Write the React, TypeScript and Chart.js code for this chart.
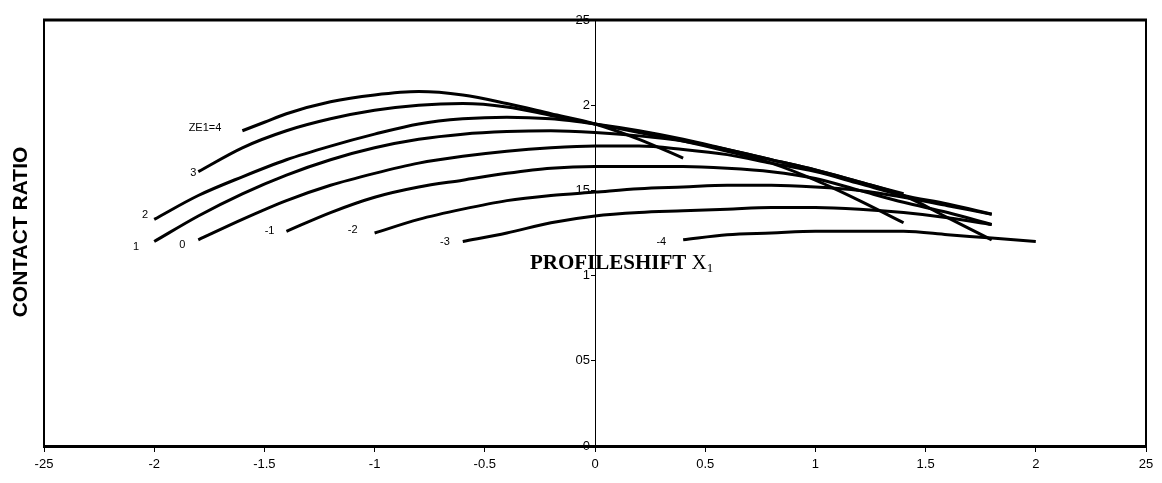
import React, { useEffect, useRef } from "react";
import { Chart, registerables } from "chart.js";

Chart.register(...registerables);

// ---- data (profile shift X1 vs contact ratio) ----
const curveNames = ["ZE1=4", "3", "2", "1", "0", "-1", "-2", "-3", "-4"];

const xs4 = [-1.6, -1.5, -1.4, -1.2, -1.0, -0.8, -0.6, -0.4, -0.2, 0, 0.2, 0.4];
const ys4 = [1.85, 1.9, 1.95, 2.02, 2.06, 2.08, 2.06, 2.01, 1.95, 1.89, 1.8, 1.69];

const xs3 = [-1.8, -1.6, -1.4, -1.2, -1.0, -0.8, -0.6, -0.4, -0.2, 0, 0.2, 0.4, 0.6, 0.8, 1.0, 1.2, 1.4];
const ys3 = [1.61, 1.75, 1.85, 1.92, 1.97, 2.0, 2.01, 1.99, 1.94, 1.89, 1.84, 1.79, 1.73, 1.66, 1.56, 1.44, 1.31];

const xs2 = [-2.0, -1.8, -1.6, -1.4, -1.2, -1.0, -0.8, -0.6, -0.4, -0.2, 0, 0.2, 0.4, 0.6, 0.8, 1.0, 1.2, 1.4, 1.6, 1.8];
const ys2 = [1.33, 1.47, 1.58, 1.68, 1.76, 1.83, 1.89, 1.92, 1.93, 1.92, 1.89, 1.85, 1.8, 1.74, 1.68, 1.62, 1.55, 1.47, 1.34, 1.21];

const xs1 = [-2.0, -1.8, -1.6, -1.4, -1.2, -1.0, -0.8, -0.6, -0.4, -0.2, 0, 0.2, 0.4, 0.6, 0.8, 1.0, 1.2, 1.4];
const ys1 = [1.2, 1.35, 1.48, 1.59, 1.68, 1.75, 1.8, 1.83, 1.845, 1.85, 1.84, 1.82, 1.79, 1.74, 1.68, 1.62, 1.55, 1.48];

const xs0 = [-1.8, -1.6, -1.4, -1.2, -1.0, -0.8, -0.6, -0.4, -0.2, 0, 0.2, 0.4, 0.6, 0.8, 1.0, 1.2, 1.4, 1.6, 1.8];
const ys0 = [1.21, 1.33, 1.44, 1.53, 1.6, 1.66, 1.7, 1.73, 1.75, 1.76, 1.76, 1.74, 1.71, 1.66, 1.61, 1.54, 1.47, 1.42, 1.36];

const xsM1 = [-1.4, -1.2, -1.0, -0.8, -0.6, -0.4, -0.2, 0, 0.2, 0.4, 0.6, 0.8, 1.0, 1.2, 1.4, 1.6, 1.8];
const ysM1 = [1.26, 1.37, 1.46, 1.52, 1.56, 1.6, 1.63, 1.64, 1.64, 1.64, 1.63, 1.61, 1.57, 1.5, 1.43, 1.37, 1.3];

const xsM2 = [-1.0, -0.8, -0.6, -0.4, -0.2, 0, 0.2, 0.4, 0.6, 0.8, 1.0, 1.2, 1.4, 1.6, 1.8];
const ysM2 = [1.25, 1.33, 1.39, 1.44, 1.47, 1.49, 1.51, 1.52, 1.53, 1.53, 1.52, 1.5, 1.46, 1.41, 1.36];

const xsM3 = [-0.6, -0.4, -0.2, 0, 0.2, 0.4, 0.6, 0.8, 1.0, 1.2, 1.4, 1.6, 1.8];
const ysM3 = [1.2, 1.25, 1.31, 1.35, 1.37, 1.38, 1.39, 1.4, 1.4, 1.39, 1.37, 1.34, 1.3];

const xsM4 = [0.4, 0.6, 0.8, 1.0, 1.2, 1.4, 1.6, 1.8, 2.0];
const ysM4 = [1.21, 1.24, 1.25, 1.26, 1.26, 1.26, 1.24, 1.22, 1.2];

const xTickLabels = ["-25", "-2", "-1.5", "-1", "-0.5", "0", "0.5", "1", "1.5", "2", "25"];
const yTickLabels = ["0", "05", "1", "15", "2", "25"];

const xTitleMain = "PROFILESHIFT";
const xTitleVar = "X";
const xTitleSub = "1";
const yTitle = "CONTACT RATIO";

// label offsets in pixels relative to each curve's first point (style only)
const labelOffsets = [
  [-21, -3],
  [-2, 1],
  [-6, -4],
  [-15, 5],
  [-13, 5],
  [-12, 0],
  [-17, -3],
  [-13, 0],
  [-17, 2],
];

const seriesX = [xs4, xs3, xs2, xs1, xs0, xsM1, xsM2, xsM3, xsM4];
const seriesY = [ys4, ys3, ys2, ys1, ys0, ysM1, ysM2, ysM3, ysM4];

const SANS = "'Liberation Sans', Arial, sans-serif";
const SERIF = "'Liberation Serif', 'Times New Roman', serif";

const decorPlugin = {
  id: "decor",
  afterDraw(chart: any) {
    const { ctx, chartArea } = chart;
    const { left, right, top, bottom } = chartArea;
    const xs = chart.scales.x;
    const ysc = chart.scales.y;
    ctx.save();
    ctx.strokeStyle = "#000";
    // frame
    ctx.lineWidth = 3;
    ctx.beginPath();
    ctx.moveTo(left - 1, top);
    ctx.lineTo(right + 1, top);
    ctx.stroke();
    ctx.lineWidth = 2;
    ctx.beginPath();
    ctx.moveTo(left, top);
    ctx.lineTo(left, bottom);
    ctx.moveTo(right, top);
    ctx.lineTo(right, bottom);
    ctx.stroke();

    ctx.fillStyle = "#000";

    // y tick labels beside the central axis
    const axisX = xs.getPixelForValue(0);
    ctx.font = `13px ${SANS}`;
    ctx.textAlign = "right";
    ctx.textBaseline = "middle";
    ysc.ticks.forEach((t: any, i: number) => {
      ctx.fillText(yTickLabels[i], axisX - 5, ysc.getPixelForValue(t.value));
    });

    // curve labels
    ctx.font = `11px ${SANS}`;
    curveNames.forEach((name, i) => {
      const px = xs.getPixelForValue(seriesX[i][0]) + labelOffsets[i][0];
      const py = ysc.getPixelForValue(seriesY[i][0]) + labelOffsets[i][1];
      ctx.fillText(name, px, py);
    });

    // x title inside plot
    ctx.textAlign = "left";
    ctx.textBaseline = "alphabetic";
    ctx.font = `bold 21px ${SERIF}`;
    const tx = 530;
    const ty = 269;
    ctx.fillText(xTitleMain, tx, ty);
    const w = ctx.measureText(xTitleMain + " ").width;
    ctx.font = `21px ${SERIF}`;
    ctx.fillText(xTitleVar, tx + w, ty);
    const w2 = ctx.measureText(xTitleVar).width;
    ctx.font = `13px ${SERIF}`;
    ctx.fillText(xTitleSub, tx + w + w2, ty + 3);

    // y title
    ctx.translate(21, 232);
    ctx.rotate(-Math.PI / 2);
    ctx.font = `bold 21px ${SANS}`;
    ctx.textAlign = "center";
    ctx.textBaseline = "middle";
    ctx.fillText(yTitle, 0, 0);
    ctx.restore();
  },
};

export default function App() {
  const ref = useRef<HTMLCanvasElement | null>(null);
  useEffect(() => {
    if (!ref.current) return;
    const datasets = seriesX.map((xsArr, i) => ({
      label: curveNames[i],
      data: xsArr.map((x, j) => ({ x, y: seriesY[i][j] })),
      borderColor: "#000",
      backgroundColor: "#000",
      borderWidth: 3,
      pointRadius: 0,
      showLine: true,
      fill: false,
      cubicInterpolationMode: "monotone" as const,
      borderCapStyle: "butt" as const,
    }));
    const chart = new Chart(ref.current, {
      type: "scatter",
      data: { datasets },
      options: {
        animation: false,
        responsive: false,
        devicePixelRatio: 1,
        layout: { padding: { left: 44, right: 16, top: 20, bottom: 0 } },
        plugins: { legend: { display: false }, tooltip: { enabled: false }, title: { display: false } },
        scales: {
          x: {
            type: "linear",
            position: "bottom",
            min: -2.5,
            max: 2.5,
            afterFit: (s: any) => {
              s.height = 37;
            },
            ticks: {
              stepSize: 0.5,
              autoSkip: false,
              maxRotation: 0,
              padding: 5,
              color: "#000",
              font: { family: SANS, size: 13 },
              callback: (_v: any, idx: number) => xTickLabels[idx],
            },
            grid: { drawOnChartArea: false, drawTicks: true, tickLength: 6, color: "#000", tickWidth: 1 },
            border: { display: true, color: "#000", width: 3 },
          },
          y: {
            type: "linear",
            position: { x: 0 } as any,
            min: 0,
            max: 2.5,
            ticks: {
              stepSize: 0.5,
              display: false,
            },
            grid: { drawOnChartArea: false, drawTicks: true, tickLength: 4, color: "#000", tickWidth: 1 },
            border: { display: true, color: "#000", width: 1 },
          },
        },
      },
      plugins: [decorPlugin],
    });
    return () => chart.destroy();
  }, []);
  return (
    <div style={{ position: "absolute", left: 0, top: 0, width: 1162, height: 483, background: "#fff" }}>
      <canvas ref={ref} width={1162} height={483} style={{ display: "block" }} />
    </div>
  );
}
